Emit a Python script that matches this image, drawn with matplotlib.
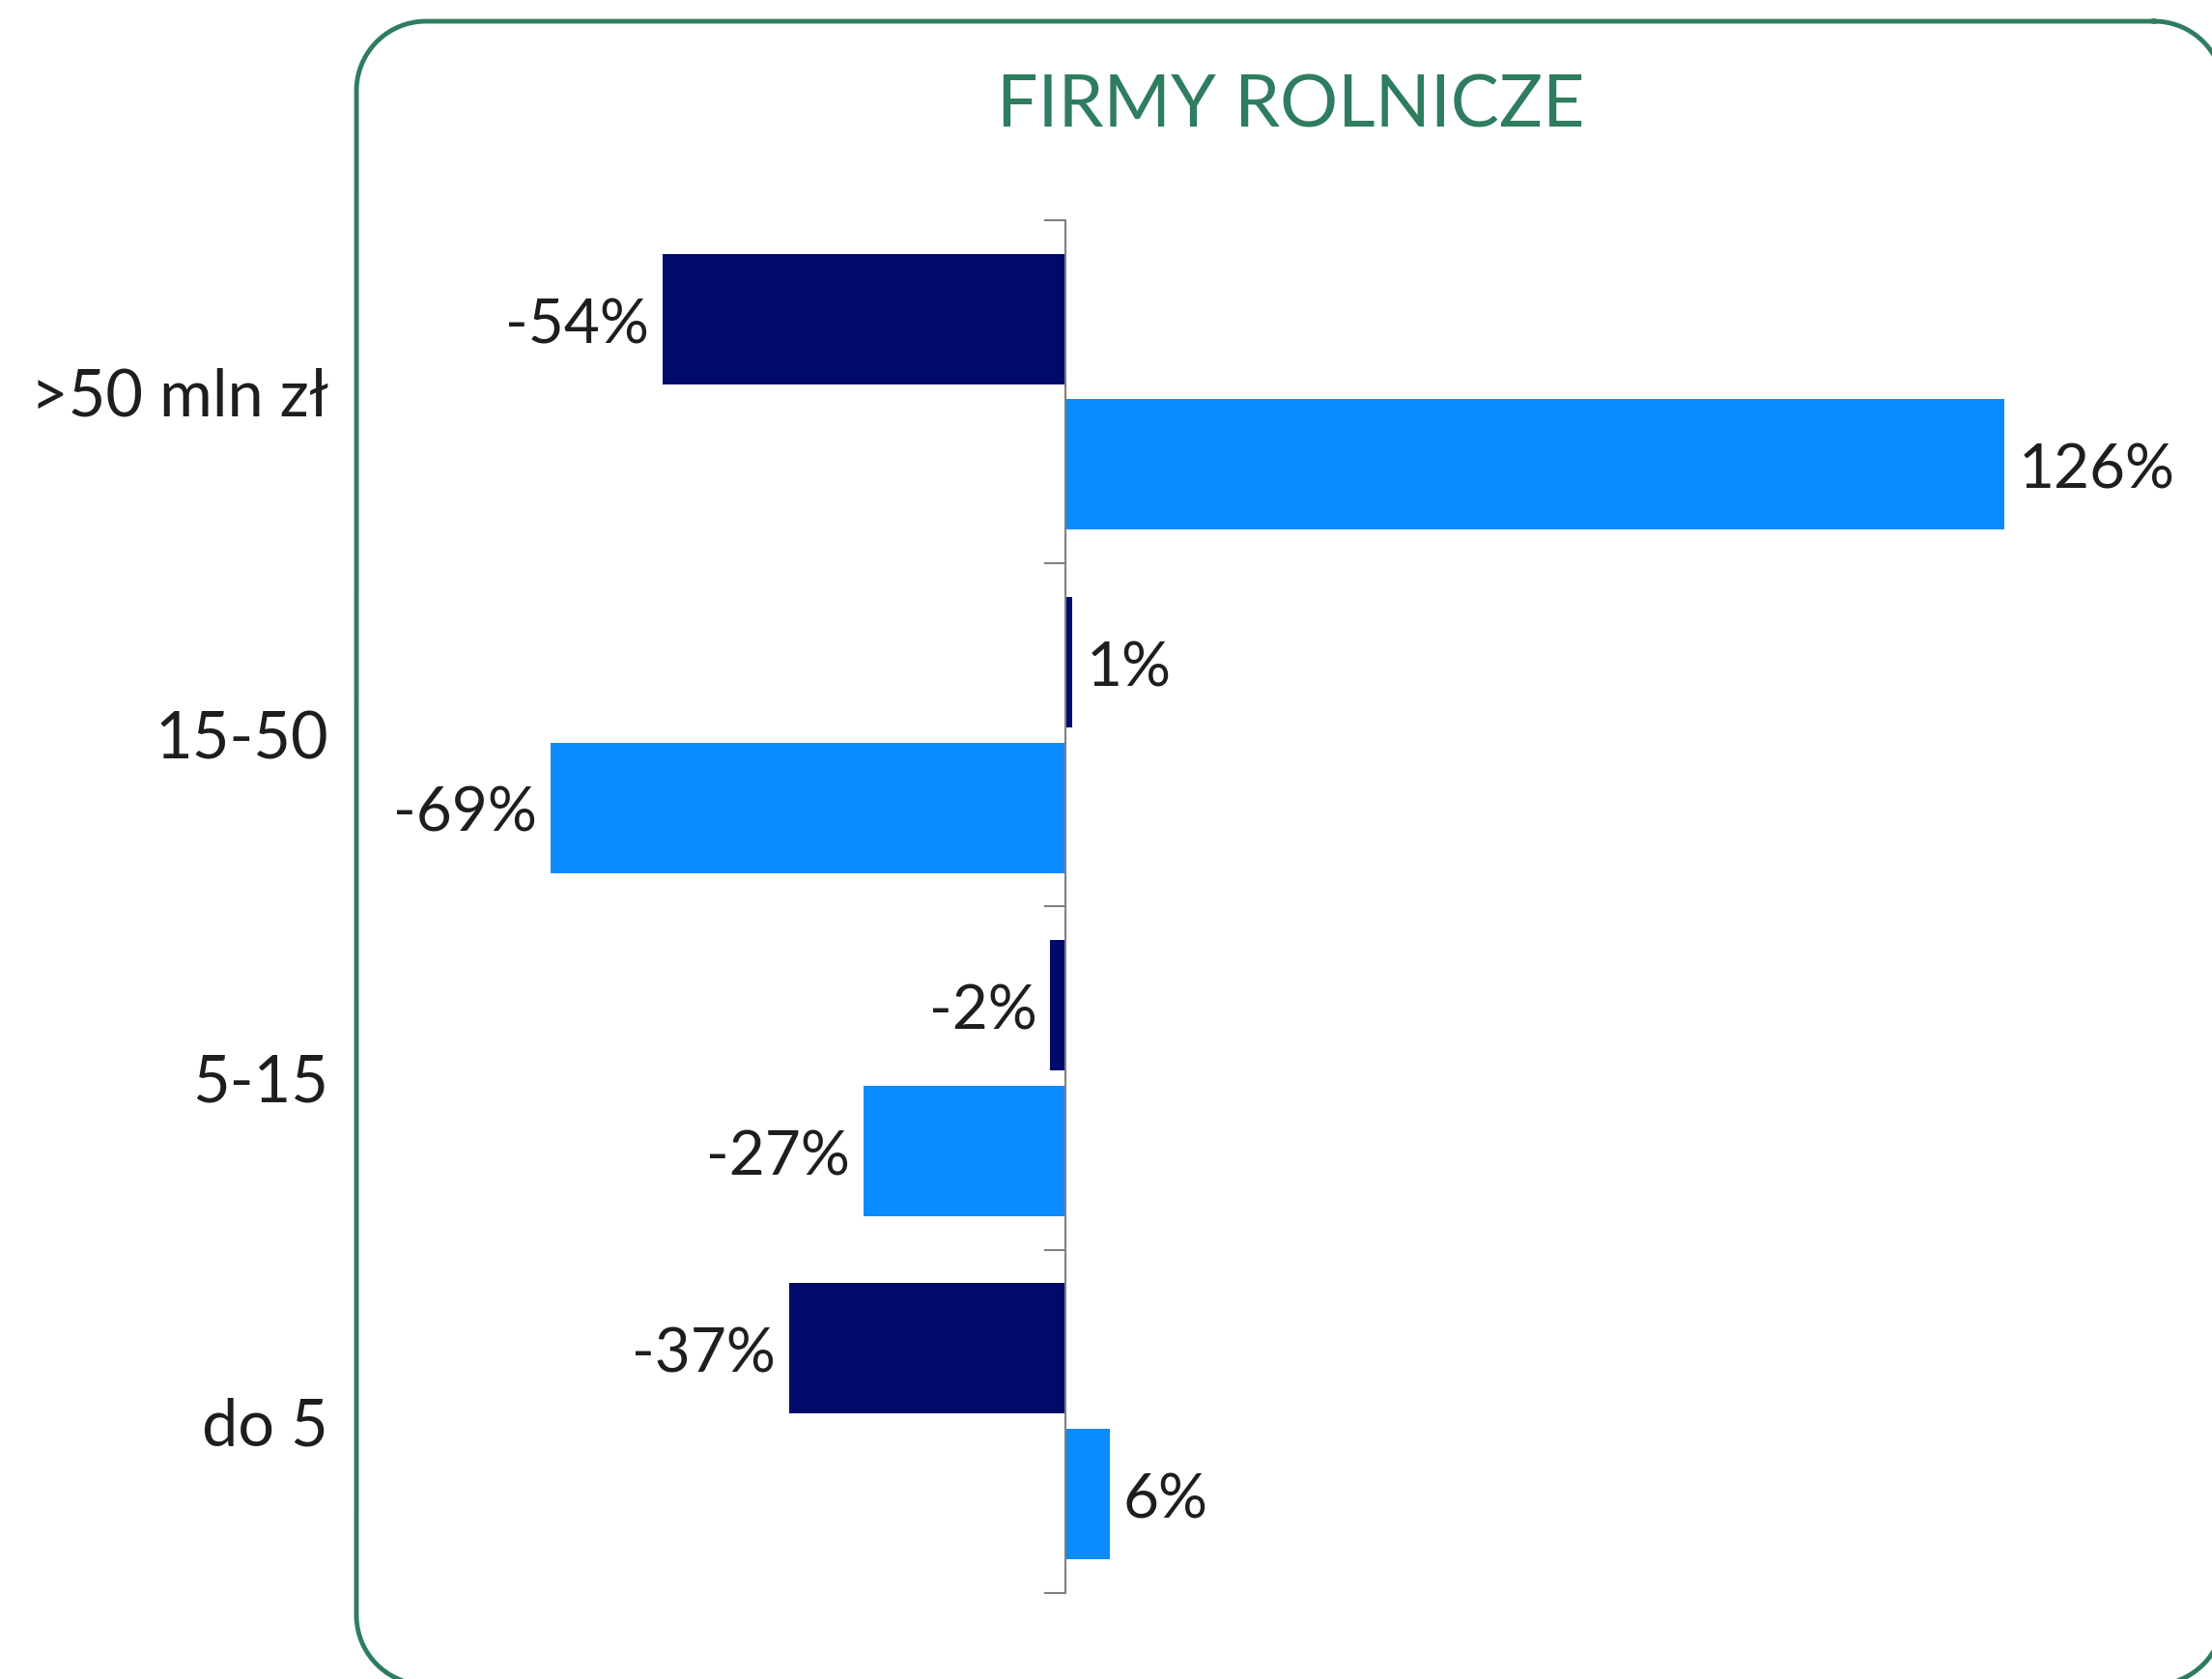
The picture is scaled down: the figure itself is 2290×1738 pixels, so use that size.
import numpy as np
import matplotlib
matplotlib.use("Agg")
import matplotlib.pyplot as plt

# Data
categories = ['>50 mln zł', '15-50', '5-15', 'do 5']
series_dark = [-54, 1, -2, -37]
series_light = [126, -69, -27, 6]

DARK = '#000A6B'
LIGHT = '#0A8CFF'
GREEN = '#2E7D5E'
TEXT = '#1E1E1E'

plt.rcParams['font.family'] = ['Lato', 'DejaVu Sans']

W, H, DPI = 2290, 1738, 100
fig = plt.figure(figsize=(W / DPI, H / DPI), dpi=DPI)


def rounded_rect(x0, y0, x1, y1, r, n=40):
    """outline of a rounded rectangle as a closed polyline (y grows downwards)"""
    pts = []
    corners = [(x1 - r, y0 + r, -90, 0), (x1 - r, y1 - r, 0, 90),
               (x0 + r, y1 - r, 90, 180), (x0 + r, y0 + r, 180, 270)]
    for cx, cy, a0, a1 in corners:
        t = np.radians(np.linspace(a0, a1, n))
        pts.extend(zip(cx + r * np.cos(t), cy + r * np.sin(t)))
    pts.append(pts[0])
    return np.array(pts)


# background layer in pixel units for the green frame (runs off right/bottom)
bg = fig.add_axes([0, 0, 1, 1], zorder=0)
bg.set_xlim(0, W)
bg.set_ylim(H, 0)
bg.axis('off')
outline = rounded_rect(369, 22, 2302, 1744, 72)
bg.plot(outline[:, 0], outline[:, 1], color=GREEN, lw=3.5, solid_joinstyle='round')

fig.text(1336 / W, 1 - 110 / H, 'FIRMY ROLNICZE', color=GREEN, fontsize=54,
         ha='center', va='center')

# axes placed so that 0% sits at x=1102 px, 7.72 px per %
ax_left, ax_right = 400, 2200
zero_px, px_per = 1102.7, 7.72
ax_top, ax_bot = 227.8, 1648.9
ax = fig.add_axes([ax_left / W, 1 - ax_bot / H, (ax_right - ax_left) / W, (ax_bot - ax_top) / H],
                  zorder=1)
ax.set_xlim((ax_left - zero_px) / px_per, (ax_right - zero_px) / px_per)
ax.set_ylim(len(categories) - 0.5, -0.5)

y = np.arange(len(categories))
h, off = 0.38, 0.212
ax.barh(y - off, series_dark, height=h, color=DARK)
ax.barh(y + off, series_light, height=h, color=LIGHT)

# value labels next to the bar ends
for ys, vals in ((y - off, series_dark), (y + off, series_light)):
    for yy, v in zip(ys, vals):
        sign = 1 if v >= 0 else -1
        ax.annotate(f'{v}%', (v, yy), xytext=(10 * sign, -5), textcoords='offset points',
                    ha='left' if v >= 0 else 'right', va='center',
                    fontsize=46, color=TEXT)

for s in ('top', 'right', 'bottom'):
    ax.spines[s].set_visible(False)
ax.spines['left'].set_position(('data', 0))
ax.spines['left'].set_color('#808080')
ax.spines['left'].set_linewidth(1.5)
ax.set_xticks([])

ax.set_yticks(np.arange(-0.5, len(categories), 1.0))
ax.set_yticklabels([])
ax.tick_params(axis='y', which='major', length=16, width=1.5, color='#808080', direction='out')
ax.set_yticks(y, minor=True)
ax.set_yticklabels(categories, minor=True)
ax.tick_params(axis='y', which='minor', length=0, pad=549, labelsize=48, labelcolor=TEXT)

ax.patch.set_alpha(0)

fig.savefig('out.png', dpi=DPI, facecolor='white')
